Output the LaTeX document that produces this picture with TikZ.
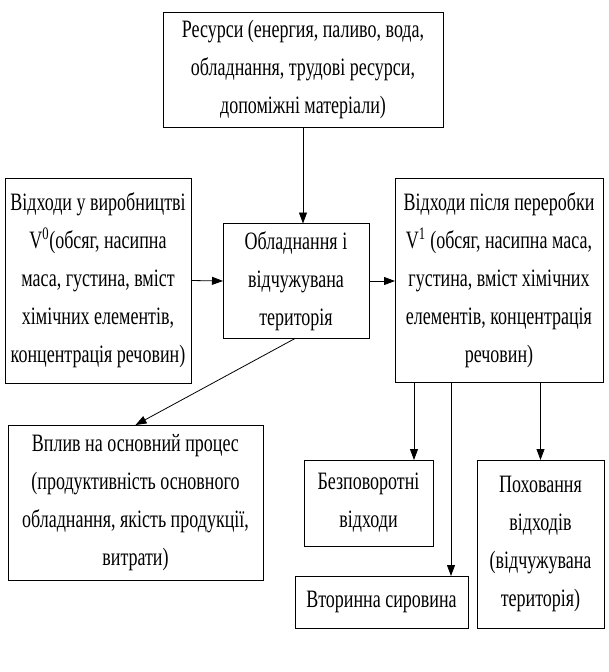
\documentclass[tikz,border=0pt]{standalone}
\usepackage{fontspec}
\setmainfont[FakeStretch=0.72]{Liberation Serif}
\usetikzlibrary{arrows.meta}

\begin{document}
\begin{tikzpicture}[x=1pt, y=-1pt, >={Triangle[length=11pt,width=8pt]},
  blok/.style={draw, line width=0.8pt, inner sep=0pt, outer sep=0pt, align=center,
    font=\fontsize{25}{38}\selectfont},
  line width=0.8pt]
  \useasboundingbox (0,0) rectangle (608,672);
  % top: resources
  \node[blok, minimum width=280pt, minimum height=115pt] (res) at (303,69.5)
    {Ресурси (енергия, паливо, вода,\\ обладнання, трудові ресурси,\\ допоміжні матеріали)};
  % middle row
  \node[blok, minimum width=186pt, minimum height=205pt] (v0) at (98,280.5)
    {Відходи у виробництві\\ V\textsuperscript{0}(обсяг, насипна\\ маса, густина, вміст\\ хімічних елементів,\\ концентрація речовин)};
  \node[blok, minimum width=146pt, minimum height=115pt] (mid) at (296,281)
    {Обладнання і\\ відчужувана\\ територія};
  \node[blok, minimum width=208pt, minimum height=204pt] (v1) at (499,280)
    {Відходи після переробки\\ V\textsuperscript{1} (обсяг, насипна маса,\\ густина, вміст хімічних\\ елементів, концентрація\\ речовин)};
  % bottom
  \node[blok, minimum width=255pt, minimum height=155pt] (infl) at (135.5,502.5)
    {Вплив на основний процес\\ (продуктивність основного\\ обладнання, якість продукції,\\ витрати)};
  \node[blok, minimum width=129pt, minimum height=86pt] (bezp) at (368.5,503)
    {Безповоротні\\ відходи};
  \node[blok, minimum width=173pt, minimum height=52pt] (vtor) at (381.5,602)
    {Вторинна сировина};
  \node[blok, minimum width=127pt, minimum height=168pt] (poh) at (540.5,544)
    {Поховання\\ відходів\\ (відчужувана\\ територія)};
  % arrows
  \draw[->] (res.south |- res.south) -- (res.south |- mid.north);
  \draw[->] (v0.east) -- (mid.west);
  \draw[->] (mid.east) -- (v1.west |- mid.east);
  \draw[->] ([xshift=-1pt]mid.south) -- (infl.north);
  \draw[->] ([xshift=19pt]v1.south west) -- ([xshift=19pt]v1.south west |- bezp.north);
  \draw[->] ([xshift=56pt]v1.south west) -- ([xshift=56pt]v1.south west |- vtor.north);
  \draw[->] (poh.north |- v1.south) -- (poh.north);
\end{tikzpicture}
\end{document}
